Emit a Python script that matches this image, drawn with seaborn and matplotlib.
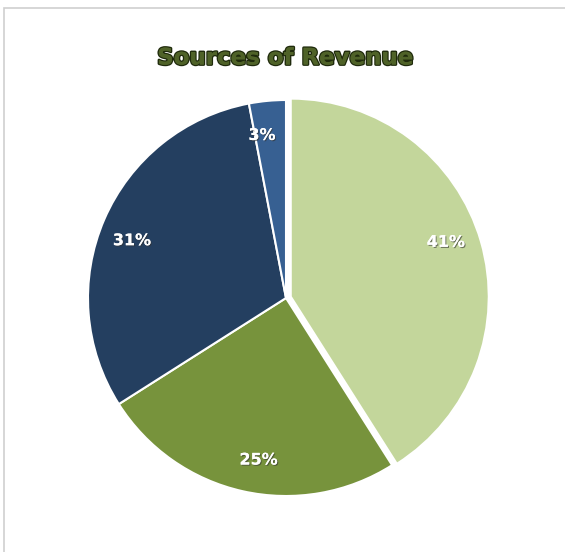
import numpy as np
import matplotlib
matplotlib.use("Agg")
import matplotlib.pyplot as plt
import matplotlib.patheffects as pe
from matplotlib.patches import Rectangle
import seaborn as sns

title = "Sources of Revenue"
categories = ["Source A", "Source B", "Source C", "Source D"]
values = [41, 25, 31, 3]
colors = ["#C3D69B", "#77933C", "#243F60", "#376092"]
explode = [0.025, 0, 0, 0]

sns.set_style("white")
plt.rcParams['font.family'] = ['DejaVu Sans']

W, H = 565, 552
fig = plt.figure(figsize=(W / 100, H / 100), dpi=100)
fig.patch.set_facecolor("white")

# frame border (top & left visible)
fig.add_artist(Rectangle((3.5 / W, -0.1), 1.2, (H - 7.5) / H + 0.1,
                         transform=fig.transFigure, fill=False,
                         edgecolor="#CFCFCF", linewidth=1.2))

cx, cy, r = 286, 298, 198
lim = 1.1
half = r * lim
ax = fig.add_axes([(cx - half) / W, (H - cy - half) / H, 2 * half / W, 2 * half / H])

pal = sns.color_palette(colors)
wedges, texts, autotexts = ax.pie(
    values, colors=pal, startangle=90, counterclock=False, explode=explode,
    autopct=lambda p: f"{p:.0f}%", pctdistance=0.83,
    wedgeprops=dict(edgecolor="white", linewidth=1.5),
    textprops=dict(color="white", fontsize=11.5, fontweight="bold"))
# Excel-like label placement: rotate label positions slightly counterclockwise
rot = np.deg2rad(3.0)
for t in autotexts:
    x, y = t.get_position()
    t.set_position((x * np.cos(rot) - y * np.sin(rot), x * np.sin(rot) + y * np.cos(rot)))
    t.set_path_effects([pe.withSimplePatchShadow(offset=(0.8, -0.8), shadow_rgbFace="#333333", alpha=0.6),
                        pe.Normal()])
ax.set_xlim(-lim, lim)
ax.set_ylim(-lim, lim)
ax.set_aspect("equal")
ax.axis("off")

fig.text(285 / W, 1 - 58 / H, title, ha="center", va="center",
         fontsize=16.5, fontweight="bold", color="#4F6228",
         path_effects=[pe.withStroke(linewidth=2.0, foreground="#1F2A0C"), pe.Normal()])

fig.savefig("out.png", dpi=100, facecolor="white")
